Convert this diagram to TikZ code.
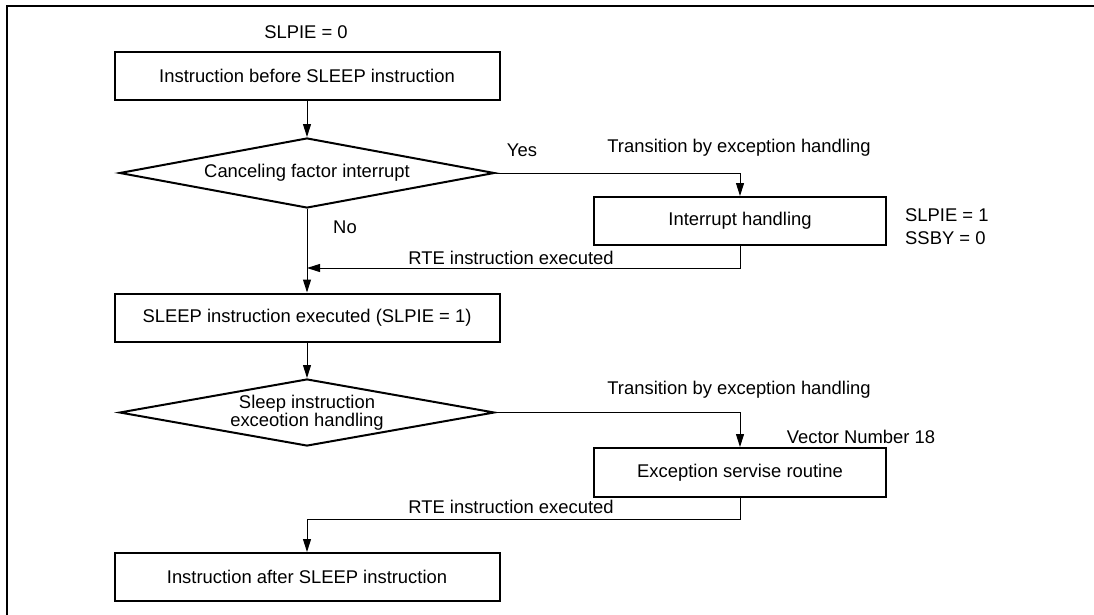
\documentclass[tikz,border=0pt]{standalone}
\usepackage{fontspec}
\setmainfont{Liberation Sans}
\usepackage{tikz}
\usetikzlibrary{
  arrows.meta,
  positioning,
  shapes.geometric,
}
\tikzset{
  >={Triangle[length=13pt,width=8pt]},
  font=\fontsize{18.4}{19}\selectfont,
  note/.style={inner sep=0pt},
  stepbox/.style={
    draw,
    line width=2pt,
    minimum width=385pt,
    minimum height=48pt,
    inner sep=0pt,
  },
  sidebox/.style={
    draw,
    line width=2pt,
    minimum width=292pt,
    minimum height=48pt,
    inner sep=0pt,
  },
  decision/.style={
    shape=diamond,
    aspect=5.2,
    draw,
    line width=2pt,
    minimum width=375pt,
    minimum height=70pt,
    inner sep=0pt,
    align=center,
    font=\fontsize{18.4}{18.5}\selectfont,
  },
  flow/.style={line width=1pt, ->},
}

\begin{document}
\begin{tikzpicture}[x=1pt,y=-1pt]
  \useasboundingbox (0,0) rectangle (1094,615);
  \draw[line width=2pt] (7,615) -- (7,6) -- (1094,6);

  % main column
  \node[note] (slpie0) at (306,32) {SLPIE = 0};
  \node[stepbox] (before) at (307,76) {Instruction before SLEEP instruction};
  \node[decision] (cancel) at (307,173) {Canceling factor interrupt};
  \node[stepbox] (sleep) at (307,317.5) {SLEEP instruction executed (SLPIE = 1)};
  \node[decision, minimum height=67pt] (exc) at (307,412.5) {Sleep instruction\\exceotion handling};
  \node[stepbox] (after) at (307,577) {Instruction after SLEEP instruction};

  % side branch
  \node[sidebox] (irq) at (740,221) {Interrupt handling};
  \node[sidebox, minimum height=49pt] (esr) at (740,472.5) {Exception servise routine};

  \node[note] (yes) at (522,150) {Yes};
  \node[note] (no) at (345,227) {No};
  \node[note] (trans1) at (739,148) {Transition by exception handling};
  \node[note] (trans2) at (739,390) {Transition by exception handling};
  \node[note, anchor=west, align=left, font=\fontsize{18.4}{23}\selectfont] (bits) at (905,226.5) {SLPIE = 1\\SSBY = 0};
  \node[note] (vec) at (861,437) {Vector Number 18};
  \node[note] (rte1) at (511,258) {RTE instruction executed};
  \node[note] (rte2) at (511,507) {RTE instruction executed};

  \coordinate (join1) at (307,268);
  \coordinate (bend2) at (740,519);

  \draw[flow] (before) -- (cancel);
  \draw[flow] (cancel) -- (sleep);
  \draw[flow] (cancel.east) -| (irq.north);
  \draw[flow] (irq.south) |- (join1);
  \draw[flow] (sleep) -- (exc);
  \draw[flow] (exc.east) -| (esr.north);
  \draw[flow] (esr.south) -- (bend2) -| (after.north);
\end{tikzpicture}
\end{document}
